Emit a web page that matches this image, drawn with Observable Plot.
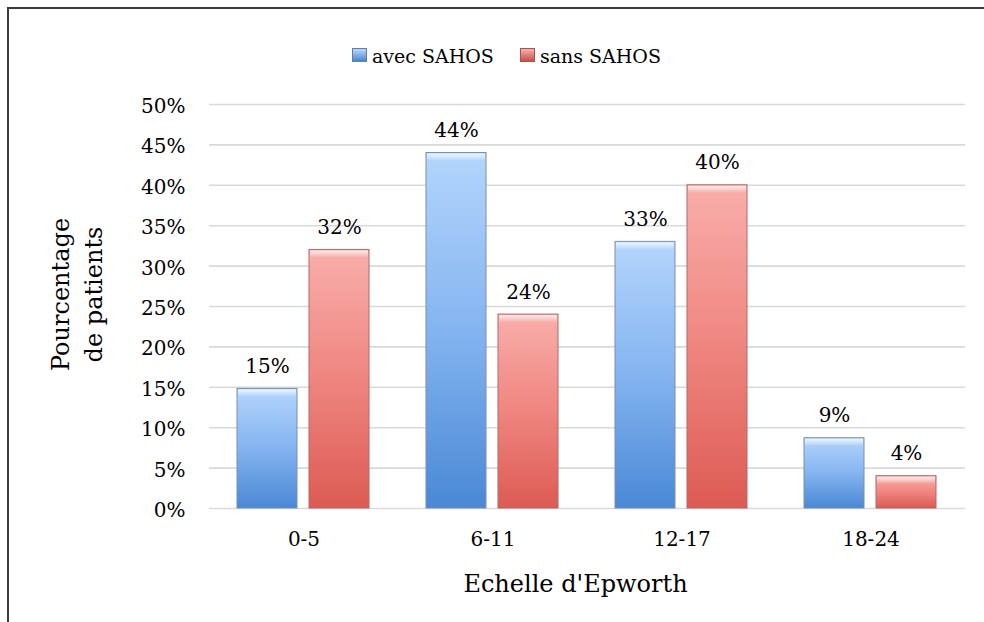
<!DOCTYPE html>
<html>
<head>
<meta charset="utf-8">
<script src="https://cdn.jsdelivr.net/npm/d3@7"></script>
<script src="https://cdn.jsdelivr.net/npm/@observablehq/plot@0.6"></script>
<style>
html,body{margin:0;padding:0;background:#fff;overflow:hidden;}
#wrap{position:relative;width:984px;height:622px;font-family:"DejaVu Serif",serif;color:#000;}
#frame{position:absolute;left:7px;top:7px;width:1200px;height:900px;border:2px solid #3a3a3a;box-sizing:border-box;pointer-events:none;}
#chart{position:absolute;left:0;top:0;}
#legend{position:absolute;left:352px;top:45px;display:flex;align-items:flex-start;font-size:19px;line-height:22px;white-space:nowrap;}
#legend .item{display:flex;align-items:flex-start;margin-right:26px;}
#legend .sw{width:15px;height:14px;margin-top:3px;margin-right:5px;box-sizing:border-box;}
rect[fill="url(#gBlue)"], rect[fill="url(#gRed)"]{filter:drop-shadow(1.5px 1.5px 1.2px rgba(0,0,0,0.28));}
</style>
</head>
<body>
<div id="wrap">
  <div id="chart"></div>
  <div id="legend"></div>
  <div id="frame"></div>
</div>
<script>
// ---- data ----
const categories = ["0-5", "6-11", "12-17", "18-24"];
const seriesNames = ["avec SAHOS", "sans SAHOS"];
const avecSAHOS = [14.8, 44, 33, 8.7];
const sansSAHOS = [32, 24, 40, 4];
const yTicks = [0, 5, 10, 15, 20, 25, 30, 35, 40, 45, 50];
const xTitle = "Echelle d'Epworth";
const yTitleLines = ["Pourcentage", "de patients"];

const seriesFill = {"avec SAHOS": "url(#gBlue)", "sans SAHOS": "url(#gRed)"};
const seriesStroke = {"avec SAHOS": "#7890b0", "sans SAHOS": "#b06a68"};
const swatchBg = {"avec SAHOS": "linear-gradient(#b9d8fc,#4a86cf)", "sans SAHOS": "linear-gradient(#f8b0ac,#cc4f4a)"};
const swatchBorder = {"avec SAHOS": "#5f7fa8", "sans SAHOS": "#a55552"};

const rows = [];
categories.forEach((c, i) => {
  rows.push({cat: c, series: seriesNames[0], value: avecSAHOS[i]});
  rows.push({cat: c, series: seriesNames[1], value: sansSAHOS[i]});
});
const fmt = v => Math.round(v) + "%";

const barMarks = seriesNames.map(s =>
  Plot.barY(rows.filter(d => d.series === s), {
    fx: "cat", x: "series", y: "value",
    fill: seriesFill[s], stroke: seriesStroke[s], strokeWidth: 1
  })
);

const chart = Plot.plot({
  width: 984,
  height: 622,
  marginLeft: 207,
  marginRight: 18,
  marginTop: 104,
  marginBottom: 114,
  style: {fontFamily: "DejaVu Serif, serif", fontSize: "20px", color: "#000", background: "transparent"},
  fx: {domain: categories, padding: 0, axis: null},
  x: {domain: seriesNames, paddingInner: 0.164, paddingOuter: 0.384, axis: null},
  y: {domain: [0, 50], axis: null},
  marks: [
    Plot.gridY(yTicks, {stroke: "#d9d9d9", strokeOpacity: 1, strokeWidth: 1.6}),
    Plot.axisY({ticks: yTicks, tickFormat: d => d + "%", tickSize: 0, tickPadding: 24, label: null, fontSize: 20, dy: 2}),
    Plot.axisFx({anchor: "bottom", tickSize: 0, tickPadding: 23, label: null, fontSize: 20}),
    ...barMarks,
    Plot.barY(rows, {fx: "cat", x: "series", y1: "value", y2: "value", insetBottom: -8, insetLeft: 1, insetRight: 1, insetTop: 1, fill: "url(#gBevel)"}),
    Plot.text(rows, {fx: "cat", x: "series", y: "value", text: d => fmt(d.value), lineAnchor: "bottom", dy: -16, fontSize: 20}),
    Plot.text([xTitle], {facet: "super", frameAnchor: "bottom", text: d => d, lineAnchor: "bottom", dy: 83, dx: -12, fontSize: 24}),
    Plot.text([yTitleLines[0]], {facet: "super", frameAnchor: "left", text: d => d, rotate: -90, lineAnchor: "bottom", textAnchor: "middle", dx: -141, dy: -12, fontSize: 24}),
    Plot.text([yTitleLines[1]], {facet: "super", frameAnchor: "left", text: d => d, rotate: -90, lineAnchor: "bottom", textAnchor: "middle", dx: -108, dy: -12, fontSize: 24})
  ]
});

d3.select(chart).insert("defs", ":first-child").html(`
  <linearGradient id="gBlue" x1="0" y1="0" x2="0" y2="1">
    <stop offset="0" stop-color="#b4d5fc"/>
    <stop offset="0.5" stop-color="#84b4f0"/>
    <stop offset="1" stop-color="#4a88d5"/>
  </linearGradient>
  <linearGradient id="gRed" x1="0" y1="0" x2="0" y2="1">
    <stop offset="0" stop-color="#f9aeaa"/>
    <stop offset="0.5" stop-color="#ef8580"/>
    <stop offset="1" stop-color="#dc5b53"/>
  </linearGradient>
  <linearGradient id="gBevel" x1="0" y1="0" x2="0" y2="1">
    <stop offset="0" stop-color="#ffffff" stop-opacity="0.75"/>
    <stop offset="1" stop-color="#ffffff" stop-opacity="0.05"/>
  </linearGradient>
`);

document.getElementById("chart").appendChild(chart);

const legend = d3.select("#legend");
seriesNames.forEach(s => {
  const it = legend.append("div").attr("class", "item");
  it.append("div").attr("class", "sw")
    .style("background", swatchBg[s])
    .style("border", "1px solid " + swatchBorder[s]);
  it.append("span").text(s);
});
</script>
</body>
</html>
